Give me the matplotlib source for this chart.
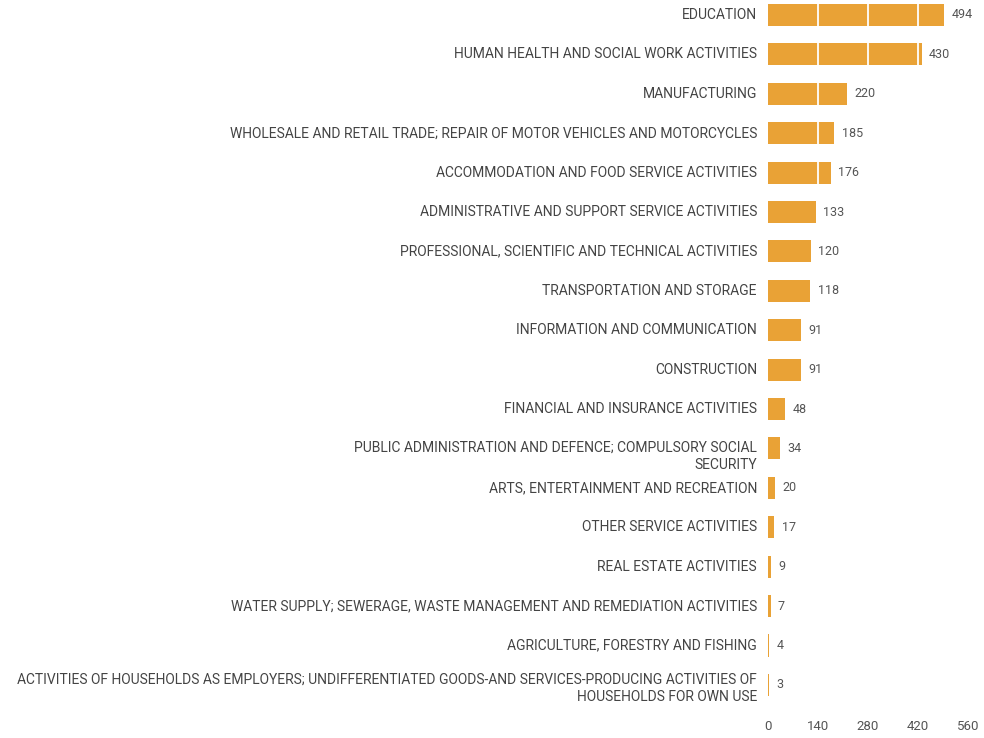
import matplotlib
matplotlib.use("Agg")
import matplotlib.pyplot as plt
import matplotlib.transforms as mtransforms

categories = [
    "EDUCATION",
    "HUMAN HEALTH AND SOCIAL WORK ACTIVITIES",
    "MANUFACTURING",
    "WHOLESALE AND RETAIL TRADE; REPAIR OF MOTOR VEHICLES AND MOTORCYCLES",
    "ACCOMMODATION AND FOOD SERVICE ACTIVITIES",
    "ADMINISTRATIVE AND SUPPORT SERVICE ACTIVITIES",
    "PROFESSIONAL, SCIENTIFIC AND TECHNICAL ACTIVITIES",
    "TRANSPORTATION AND STORAGE",
    "INFORMATION AND COMMUNICATION",
    "CONSTRUCTION",
    "FINANCIAL AND INSURANCE ACTIVITIES",
    "PUBLIC ADMINISTRATION AND DEFENCE; COMPULSORY SOCIAL\nSECURITY",
    "ARTS, ENTERTAINMENT AND RECREATION",
    "OTHER SERVICE ACTIVITIES",
    "REAL ESTATE ACTIVITIES",
    "WATER SUPPLY; SEWERAGE, WASTE MANAGEMENT AND REMEDIATION ACTIVITIES",
    "AGRICULTURE, FORESTRY AND FISHING",
    "ACTIVITIES OF HOUSEHOLDS AS EMPLOYERS; UNDIFFERENTIATED GOODS-AND SERVICES-PRODUCING ACTIVITIES OF\nHOUSEHOLDS FOR OWN USE",
]
values = [494, 430, 220, 185, 176, 133, 120, 118, 91, 91, 48, 34, 20, 17, 9, 7, 4, 3]
xticks = [0, 140, 280, 420, 560]

plt.rcParams['font.family'] = ['Roboto', 'DejaVu Sans']

fig = plt.figure(figsize=(9.84, 7.38), dpi=100)
ax = fig.add_axes([768/984, 1 - 705/738, 200/984, 705/738])

ypos = list(range(len(categories)))
ax.barh(ypos, values, height=0.56, color="#E9A236", zorder=1)

ax.set_xlim(0, 560)
ax.set_ylim(17.51, -0.38)
ax.set_xticks(xticks)
ax.set_xticklabels([str(t) for t in xticks], fontsize=9.5, color="#555555")
ax.set_yticks(ypos)
ax.set_yticklabels(categories, fontsize=10, color="#444444", ha="right", va="center",
                   linespacing=1.3)
ax.tick_params(axis="both", length=0)
ax.tick_params(axis="y", pad=8)
ax.tick_params(axis="x", pad=11)

# wrapped labels sit slightly lower in the reference
offsets = {11: -8, 17: -3}
for i, lab in enumerate(ax.get_yticklabels()):
    if i in offsets:
        off = mtransforms.ScaledTranslation(0, offsets[i] / 100, fig.dpi_scale_trans)
        lab.set_transform(lab.get_transform() + off)

for v in xticks[1:-1]:
    ax.axvline(v, color="white", linewidth=1.3, zorder=2)

for y, v in zip(ypos, values):
    ax.text(v + 21, y, str(v), va="center", ha="left", fontsize=9, color="#555555")

for s in ax.spines.values():
    s.set_visible(False)
ax.patch.set_alpha(0)

fig.savefig("out.png", dpi=100)
